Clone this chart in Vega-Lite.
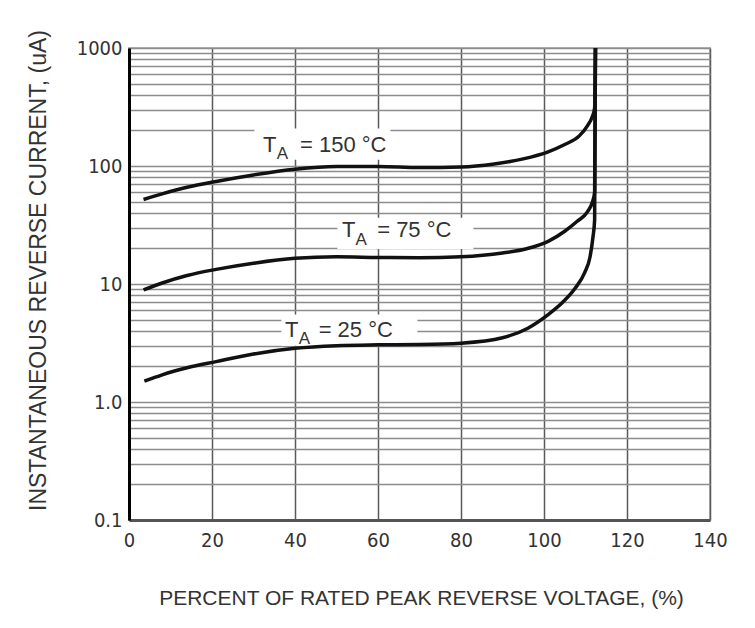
{
  "$schema": "https://vega.github.io/schema/vega-lite/v6.json",
  "width": 581,
  "height": 472,
  "autosize": {"type": "none"},
  "padding": {"left": 129, "top": 48, "right": 45, "bottom": 108},
  "background": "white",
  "config": {"font": "Liberation Sans", "view": {"stroke": "#b5b5b5", "strokeWidth": 2}},
  "datasets": {
    "curves": [
      {"series": "150", "x": 3.5, "y": 52},
      {"series": "150", "x": 8, "y": 58},
      {"series": "150", "x": 14, "y": 66},
      {"series": "150", "x": 21, "y": 74},
      {"series": "150", "x": 30, "y": 84},
      {"series": "150", "x": 40, "y": 94},
      {"series": "150", "x": 50, "y": 99},
      {"series": "150", "x": 60, "y": 99},
      {"series": "150", "x": 70, "y": 97},
      {"series": "150", "x": 80, "y": 98},
      {"series": "150", "x": 88, "y": 104},
      {"series": "150", "x": 95, "y": 115},
      {"series": "150", "x": 101, "y": 132},
      {"series": "150", "x": 105, "y": 152},
      {"series": "150", "x": 108.5, "y": 180},
      {"series": "150", "x": 110.5, "y": 220},
      {"series": "150", "x": 111.6, "y": 260},
      {"series": "150", "x": 112.2, "y": 310},
      {"series": "150", "x": 112.4, "y": 1000},
      {"series": "75", "x": 3.5, "y": 8.9},
      {"series": "75", "x": 8, "y": 10.2},
      {"series": "75", "x": 14, "y": 11.8},
      {"series": "75", "x": 21, "y": 13.3},
      {"series": "75", "x": 30, "y": 15.0},
      {"series": "75", "x": 40, "y": 16.5},
      {"series": "75", "x": 50, "y": 17.0},
      {"series": "75", "x": 60, "y": 16.8},
      {"series": "75", "x": 70, "y": 16.7},
      {"series": "75", "x": 80, "y": 17.0},
      {"series": "75", "x": 90, "y": 18.3},
      {"series": "75", "x": 96, "y": 20.0},
      {"series": "75", "x": 101, "y": 23},
      {"series": "75", "x": 105, "y": 28},
      {"series": "75", "x": 108, "y": 34},
      {"series": "75", "x": 110.5, "y": 41},
      {"series": "75", "x": 111.7, "y": 50},
      {"series": "75", "x": 112.2, "y": 60},
      {"series": "75", "x": 112.4, "y": 1000},
      {"series": "25", "x": 3.7, "y": 1.5},
      {"series": "25", "x": 8, "y": 1.7},
      {"series": "25", "x": 14, "y": 1.95},
      {"series": "25", "x": 21, "y": 2.2},
      {"series": "25", "x": 30, "y": 2.55},
      {"series": "25", "x": 40, "y": 2.85},
      {"series": "25", "x": 50, "y": 3.0},
      {"series": "25", "x": 60, "y": 3.05},
      {"series": "25", "x": 70, "y": 3.07},
      {"series": "25", "x": 80, "y": 3.15},
      {"series": "25", "x": 90, "y": 3.5},
      {"series": "25", "x": 96, "y": 4.2},
      {"series": "25", "x": 101, "y": 5.5},
      {"series": "25", "x": 104.5, "y": 7.0},
      {"series": "25", "x": 107.5, "y": 9.2},
      {"series": "25", "x": 109.8, "y": 12.5},
      {"series": "25", "x": 111.1, "y": 17},
      {"series": "25", "x": 111.8, "y": 25},
      {"series": "25", "x": 112.2, "y": 35},
      {"series": "25", "x": 112.4, "y": 1000}
    ],
    "boxes": [
      {"label": "150", "x": 46.6, "y": 153},
      {"label": "75", "x": 66.6, "y": 26.8},
      {"label": "25", "x": 53.1, "y": 4.07}
    ],
    "labels": [
      {"text": "T", "part": "main", "x": 32.3, "y": 131.5},
      {"text": "A", "part": "sub", "x": 35.6, "y": 114.6},
      {"text": "= 150 °C", "part": "main", "x": 41.2, "y": 131.5},
      {"text": "T", "part": "main", "x": 51.3, "y": 25.0},
      {"text": "A", "part": "sub", "x": 54.6, "y": 21.4},
      {"text": "= 75 °C", "part": "main", "x": 59.8, "y": 25.0},
      {"text": "T", "part": "main", "x": 37.6, "y": 3.55},
      {"text": "A", "part": "sub", "x": 40.9, "y": 3.1},
      {"text": "= 25 °C", "part": "main", "x": 45.7, "y": 3.55}
    ]
  },
  "encoding": {
    "x": {
      "field": "x",
      "type": "quantitative",
      "scale": {"domain": [0, 140], "nice": false, "zero": false},
      "axis": {
        "values": [0, 20, 40, 60, 80, 100, 120, 140],
        "grid": true,
        "gridColor": "#5a5a5a",
        "gridWidth": 1.5,
        "ticks": false,
        "domainColor": "#555555",
        "domainWidth": 3,
        "labelFont": "Liberation Sans Narrow, DejaVu Sans Condensed, sans-serif",
        "labelFontSize": 20,
        "labelColor": "#333333",
        "labelPadding": 10,
        "labelFlush": false,
        "labelOverlap": false,
        "title": "PERCENT OF RATED PEAK REVERSE VOLTAGE, (%)",
        "titleFont": "Liberation Sans",
        "titleFontSize": 21,
        "titleFontWeight": "normal",
        "titleColor": "#333333",
        "titleX": 292,
        "titleY": 78,
        "titleBaseline": "middle",
        "titleAlign": "center"
      }
    },
    "y": {
      "field": "y",
      "type": "quantitative",
      "scale": {"type": "log", "domain": [0.1, 1000], "nice": false},
      "axis": {
        "values": [0.1, 0.2, 0.3, 0.4, 0.5, 0.6, 0.7, 0.8, 0.9, 1, 2, 3, 4, 5, 6, 7, 8, 9, 10, 20, 30, 40, 50, 60, 70, 80, 90, 100, 200, 300, 400, 500, 600, 700, 800, 900, 1000],
        "labelExpr": "datum.value == 0.1 ? '0.1' : datum.value == 1 ? '1.0' : datum.value == 10 ? '10' : datum.value == 100 ? '100' : datum.value == 1000 ? '1000' : ''",
        "grid": true,
        "gridColor": "#8c8c8c",
        "gridWidth": 1.5,
        "ticks": false,
        "domainColor": "#000000",
        "domainWidth": 3,
        "labelFont": "Liberation Sans Narrow, DejaVu Sans Condensed, sans-serif",
        "labelFontSize": 20,
        "labelColor": "#333333",
        "labelPadding": 7,
        "labelFlush": false,
        "labelOverlap": false,
        "labelBaseline": "middle",
        "title": "INSTANTANEOUS REVERSE CURRENT, (uA)",
        "titleFont": "Liberation Sans",
        "titleFontSize": 23,
        "titleFontWeight": "normal",
        "titleColor": "#333333",
        "titleAngle": -90,
        "titleX": -91,
        "titleY": 222,
        "titleBaseline": "middle",
        "titleAlign": "center"
      }
    }
  },
  "layer": [
    {
      "data": {"name": "boxes"},
      "mark": {"type": "point", "shape": "M-1,-0.23H1V0.23H-1Z", "size": 18500, "filled": true, "fill": "white", "opacity": 1, "strokeWidth": 0}
    },
    {
      "data": {"name": "curves"},
      "mark": {"type": "line", "interpolate": "monotone", "color": "#111111", "strokeWidth": 3.5},
      "encoding": {
        "detail": {"field": "series", "type": "nominal"}
      }
    },
    {
      "data": {"name": "labels"},
      "mark": {"type": "text", "align": "left", "baseline": "alphabetic", "color": "#333333"},
      "encoding": {
        "text": {"field": "text"},
        "size": {"field": "part", "type": "ordinal", "scale": {"domain": ["main", "sub"], "range": [22, 17]}, "legend": null}
      }
    }
  ]
}
